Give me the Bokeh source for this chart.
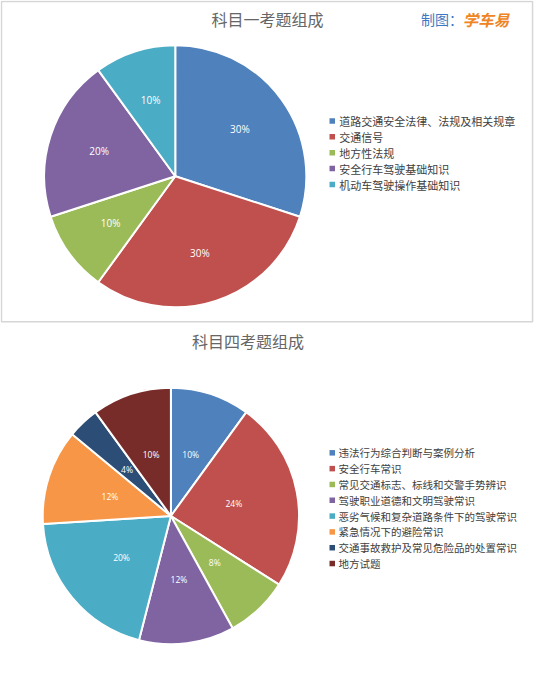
import math
from bokeh.plotting import figure
from bokeh.models import Range1d, ColumnDataSource
from bokeh.core.properties import value
from bokeh.embed import file_html
from bokeh.resources import INLINE

# ---------------- data ----------------
title1 = "科目一考题组成"
credit_a = "制图："
credit_b = "学车易"
cats1 = ["道路交通安全法律、法规及相关规章", "交通信号", "地方性法规",
         "安全行车驾驶基础知识", "机动车驾驶操作基础知识"]
vals1 = [30, 30, 10, 20, 10]
colors1 = ["#4F81BD", "#C0504D", "#9BBB59", "#8064A2", "#4BACC6"]

title2 = "科目四考题组成"
cats2 = ["违法行为综合判断与案例分析", "安全行车常识", "常见交通标志、标线和交警手势辨识",
         "驾驶职业道德和文明驾驶常识", "恶劣气候和复杂道路条件下的驾驶常识",
         "紧急情况下的避险常识", "交通事故救护及常见危险品的处置常识", "地方试题"]
vals2 = [10, 24, 8, 12, 20, 12, 4, 10]
colors2 = ["#4F81BD", "#C0504D", "#9BBB59", "#8064A2", "#4BACC6",
           "#F79646", "#2C4D75", "#772C2A"]

W, H = 550, 675
CJK = value("Noto Sans CJK SC")


def Y(y):  # top-down page coordinate -> data coordinate
    return H - y


p = figure(width=534, height=659, output_backend="svg", toolbar_location=None,
           x_range=Range1d(0, W), y_range=Range1d(0, H), min_border=0)
p.axis.visible = False
p.grid.visible = False
p.outline_line_color = None
p.background_fill_color = "white"

# frame around the first chart
p.quad(left=[1], right=[548], top=[Y(1)], bottom=[Y(329)],
       fill_color=None, line_color="#d6d6d6", line_width=1.5)


def draw_pie(cx, cy, r, vals, colors, lab_frac, lab_size):
    total = float(sum(vals))
    cum = 0.0
    st, en, lx, ly, labs = [], [], [], [], []
    for v in vals:
        a0 = math.pi / 2 - 2 * math.pi * cum / total
        a1 = math.pi / 2 - 2 * math.pi * (cum + v) / total
        m = (a0 + a1) / 2
        st.append(a0)
        en.append(a1)
        lx.append(cx + lab_frac * r * math.cos(m))
        ly.append(cy + lab_frac * r * math.sin(m))
        labs.append("%d%%" % round(100 * v / total))
        cum += v
    src = ColumnDataSource(dict(start=st, end=en, color=colors,
                                lx=lx, ly=ly, lab=labs))
    p.wedge(x=cx, y=cy, radius=r, start_angle="start", end_angle="end",
            direction="clock", fill_color="color", line_color="white",
            line_width=2, source=src)
    p.text(x="lx", y="ly", text="lab", source=src, text_color="white",
           text_font=value("Open Sans"), text_font_size=lab_size,
           text_align="center", text_baseline="middle")


def draw_legend(x_sq, x_txt, y0, pitch, cats, colors, size):
    ys = [Y(y0 + i * pitch) for i in range(len(cats))]
    src = ColumnDataSource(dict(xs=[x_sq] * len(cats), xt=[x_txt] * len(cats),
                                y=ys, c=colors, t=cats))
    p.scatter(x="xs", y="y", marker="square", size=5.5, fill_color="c",
              line_color=None, source=src)
    p.text(x="xt", y="y", text="t", source=src, text_color="#404040",
           text_font=CJK, text_font_size=size, text_baseline="middle",
           text_align="left")


# chart 1
p.text(x=[275], y=[Y(18.5)], text=[title1], text_font=CJK,
       text_font_size="16px", text_color="#666666",
       text_align="center", text_baseline="middle")
p.text(x=[433], y=[Y(19)], text=[credit_a], text_font=CJK,
       text_font_size="14px", text_color="#3B78C2",
       text_align="left", text_baseline="middle")
p.text(x=[476], y=[Y(19)], text=[credit_b], text_font=CJK,
       text_font_size="15.5px", text_color="#EE8422", text_font_style="bold italic",
       text_align="left", text_baseline="middle")
draw_pie(180, Y(180), 135, vals1, colors1, 0.61, "10px")
draw_legend(341.7, 349, 123.3, 16.3, cats1, colors1, "11px")

# chart 2
p.text(x=[255], y=[Y(349)], text=[title2], text_font=CJK,
       text_font_size="16px", text_color="#666666",
       text_align="center", text_baseline="middle")
draw_pie(175.5, Y(528), 132, vals2, colors2, 0.5, "8.5px")
draw_legend(341.7, 348, 463.3, 16.2, cats2, colors2, "10.5px")

open("out.html", "w").write(file_html(p, INLINE))
